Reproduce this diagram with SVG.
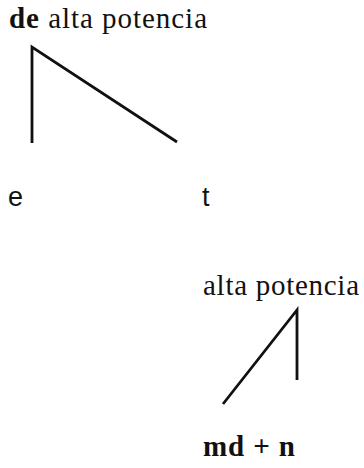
<svg xmlns="http://www.w3.org/2000/svg" width="364" height="468" viewBox="0 0 364 468">
<style>
.t{font-family:"Liberation Serif","Times New Roman",serif;font-size:29px;fill:#111}
.s{font-family:"Liberation Sans",Arial,sans-serif;font-size:27px;fill:#111}
.b{font-weight:bold}
.ln{fill:none;stroke:#111;stroke-width:2.8;stroke-linejoin:miter;stroke-linecap:butt}
</style>
<rect width="364" height="468" fill="#fff"/>
<g id="connectors">
<polyline class="ln" points="32,143 32,47 177,142"/>
<polyline class="ln" points="223,404 297,310 297,380"/>
</g>
<g id="node-top">
<text class="t" x="9" y="28" textLength="198" lengthAdjust="spacing"><tspan class="b">de</tspan> alta potencia</text>
</g>
<g id="node-e">
<text class="s" x="8" y="206">e</text>
</g>
<g id="node-t">
<text class="s" x="202" y="206">t</text>
</g>
<g id="node-mid">
<text class="t" x="203" y="295" textLength="156" lengthAdjust="spacing">alta potencia</text>
</g>
<g id="node-bottom">
<text class="t b" x="203" y="456" textLength="92" lengthAdjust="spacing">md + n</text>
</g>
</svg>
